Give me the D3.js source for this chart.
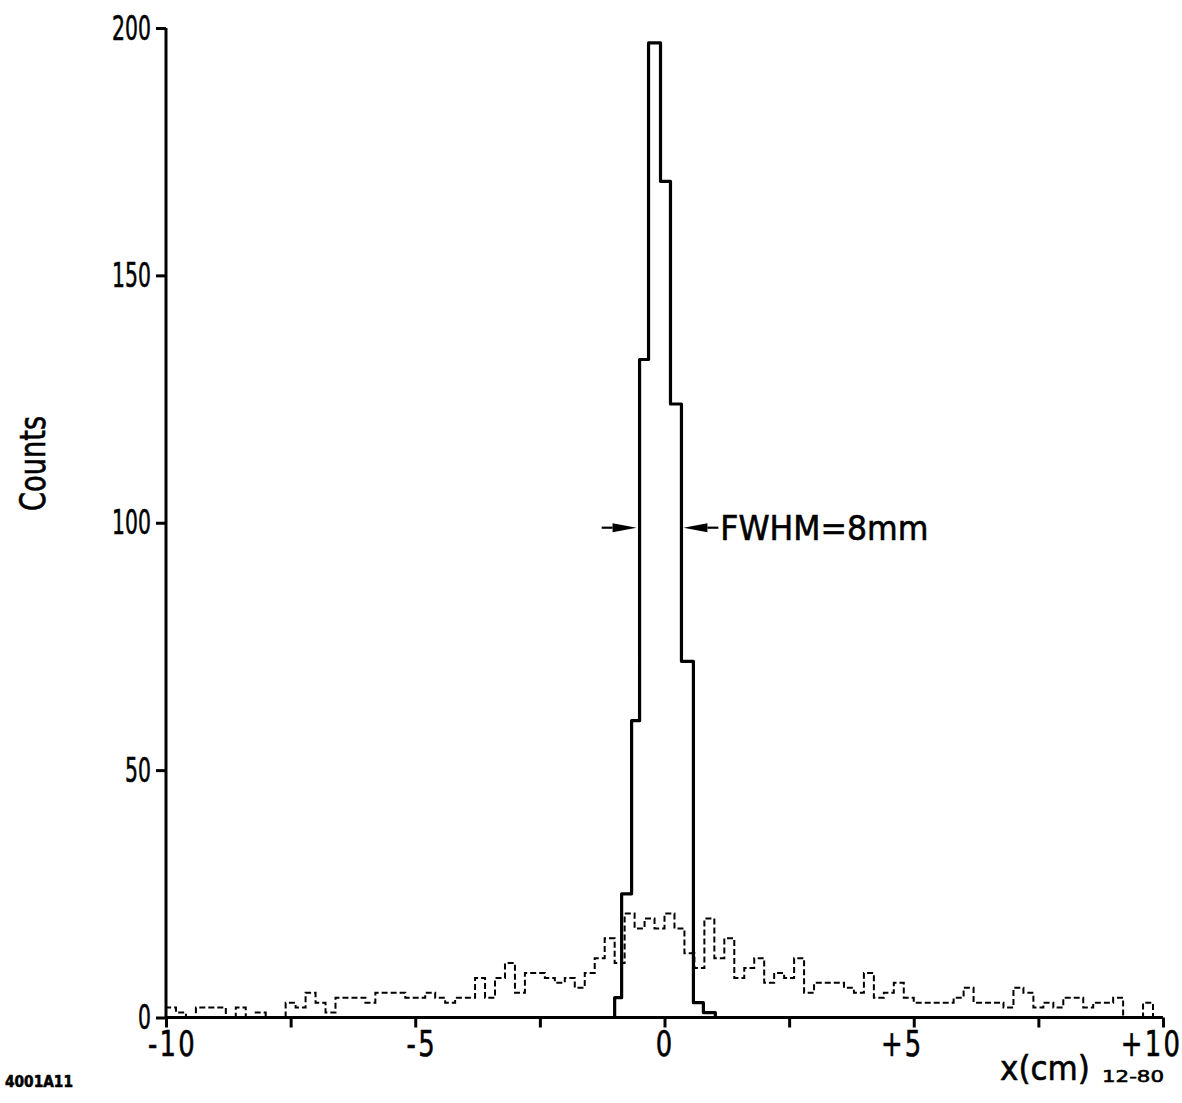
<!DOCTYPE html>
<html>
<head>
<meta charset="utf-8">
<script src="https://cdn.jsdelivr.net/npm/d3@7"></script>
<style>
  html, body { margin: 0; padding: 0; background: #fff; }
  svg { display: block; }
  text { font-family: "DejaVu Sans", sans-serif; fill: #000; stroke: #000; stroke-width: 0.6; }
</style>
</head>
<body>
<script>
// data

// dashed histogram: 100 bins of 0.2 cm from -10 to +10
const binWidth = 0.2;
const binStart = -10;
const backgroundCounts = [
  2, 1, 0, 2, 2, 2, 0, 2, 0, 1,
  0, 0, 3, 2, 5, 3, 1, 4, 4, 4,
  3, 5, 5, 5, 4, 4, 5, 4, 3, 4,
  4, 8, 4, 8, 11, 5, 9, 9, 8, 7,
  8, 6, 9, 12, 16, 11, 21, 18, 20, 18,
  21, 18, 13, 10, 20, 12, 16, 8, 10, 12,
  7, 9, 8, 12, 5, 7, 7, 7, 6, 5,
  9, 4, 5, 7, 4, 3, 3, 3, 3, 4,
  6, 3, 3, 3, 2, 6, 5, 2, 3, 2,
  4, 4, 2, 3, 3, 4, 0, 0, 3, 0
];

// solid histogram (peak), edges in cm
const peakEdges = [-1.0, -0.86, -0.66, -0.5, -0.32, -0.08, 0.12, 0.34, 0.58, 0.78, 1.02];
const peakCounts = [4, 25, 60, 133, 197, 169, 124, 72, 3, 1];

// axes
const xTicks = [-10, -7.5, -5, -2.5, 0, 2.5, 5, 7.5, 10];
const xTickLabels = ["-10", "", "-5", "", "0", "", "+5", "", "+10"];
const yTicks = [0, 50, 100, 150, 200];

// FWHM marker
const fwhmLevel = 99;
const fwhmText = "FWHM=8mm";

// graph

const w = 1182;
const h = 1103;

const svg = d3.select("body").append("svg")
  .attr("width", w)
  .attr("height", h);

const x = d3.scaleLinear().domain([-10, 10]).range([166, 1163]);
const y = d3.scaleLinear().domain([0, 200]).range([1017.5, 28]);

function stepPath(edges, counts) {
  const pts = [[edges[0], 0]];
  counts.forEach((c, i) => pts.push([edges[i], c]));
  pts.push([edges[edges.length - 1], counts[counts.length - 1]]);
  pts.push([edges[edges.length - 1], 0]);
  return d3.line()
    .x(d => x(d[0]))
    .y(d => y(d[1]))
    .curve(d3.curveStepAfter)(pts);
}

// dashed background
const bgEdges = d3.range(backgroundCounts.length + 1).map(i => binStart + i * binWidth);

svg.append("path")
  .attr("d", stepPath(bgEdges, backgroundCounts))
  .attr("fill", "none")
  .attr("stroke", "#000")
  .attr("stroke-width", 2)
  .attr("stroke-dasharray", "6,3");

// solid peak
svg.append("path")
  .attr("d", stepPath(peakEdges, peakCounts))
  .attr("fill", "none")
  .attr("stroke", "#000")
  .attr("stroke-width", 3.2)
  .attr("stroke-linejoin", "round");

// axes

const xAxis = d3.axisBottom(x)
  .tickValues(xTicks)
  .tickSize(10)
  .tickPadding(6)
  .tickFormat((d, i) => xTickLabels[i]);

const yAxis = d3.axisLeft(y)
  .tickValues(yTicks)
  .tickSize(10)
  .tickPadding(5);

const gx = svg.append("g")
  .attr("transform", "translate(0," + y(0) + ")")
  .call(xAxis);

const gy = svg.append("g")
  .attr("transform", "translate(" + x(-10) + ",0)")
  .call(yAxis);

[gx, gy].forEach(g => {
  g.select(".domain").attr("stroke-width", 3).attr("stroke", "#000");
  g.selectAll(".tick line").attr("stroke-width", 3).attr("stroke", "#000");
  g.attr("font-family", null).attr("font-size", null);
});

gy.select(".domain").attr("d", "M0," + y(200) + "V" + y(0));
gx.select(".domain").attr("d", "M" + x(-10) + ",0H" + x(10));

// narrow lettering like the original
const sy = 0.6;
const sxl = 0.74;

gy.selectAll(".tick text")
  .attr("font-size", 34)
  .attr("x", -15 / sy)
  .attr("dy", "0.33em")
  .attr("transform", "scale(" + sy + ",1)");

gx.selectAll(".tick text")
  .attr("font-size", 35)
  .attr("y", 0)
  .attr("dy", 0)
  .attr("letter-spacing", 3)
  .attr("transform", d => {
    const lab = xTickLabels[xTicks.indexOf(d)];
    const shift = lab.startsWith("+") ? -12 : (lab.startsWith("-") ? 6 : 0);
    return "translate(" + shift + ",38) scale(" + sxl + ",1)";
  });

// axis titles

svg.append("text")
  .attr("transform", "translate(45," + y(112) + ") rotate(-90)")
  .attr("text-anchor", "middle")
  .attr("font-size", 36)
  .attr("textLength", 95)
  .attr("lengthAdjust", "spacingAndGlyphs")
  .text("Counts");

svg.append("text")
  .attr("x", 1000)
  .attr("y", 1080)
  .attr("font-size", 34)
  .attr("textLength", 90)
  .attr("lengthAdjust", "spacingAndGlyphs")
  .text("x(cm)");

svg.append("text")
  .attr("x", 1102)
  .attr("y", 1082)
  .attr("font-size", 16)
  .attr("textLength", 62)
  .attr("lengthAdjust", "spacingAndGlyphs")
  .text("12-80");

svg.append("text")
  .attr("x", 5)
  .attr("y", 1087)
  .attr("font-size", 16)
  .attr("font-weight", "bold")
  .attr("textLength", 68)
  .attr("lengthAdjust", "spacingAndGlyphs")
  .text("4001A11");

// FWHM arrows

const fy = y(fwhmLevel);

function arrow(tail, tip) {
  const dir = Math.sign(x(tip) - x(tail));
  const head = 24;
  svg.append("line")
    .attr("x1", x(tail)).attr("y1", fy)
    .attr("x2", x(tip) - dir * head).attr("y2", fy)
    .attr("stroke", "#000")
    .attr("stroke-width", 2.2);
  svg.append("path")
    .attr("d", "M" + x(tip) + "," + fy +
      "L" + (x(tip) - dir * head) + "," + (fy - 4.5) +
      "L" + (x(tip) - dir * head) + "," + (fy + 4.5) + "Z")
    .attr("fill", "#000");
}

arrow(-1.26, -0.56);
arrow(1.08, 0.38);

svg.append("text")
  .attr("x", x(1.12))
  .attr("y", fy + 12)
  .attr("font-size", 33)
  .attr("textLength", 208)
  .attr("lengthAdjust", "spacingAndGlyphs")
  .text(fwhmText);
</script>
</body>
</html>
